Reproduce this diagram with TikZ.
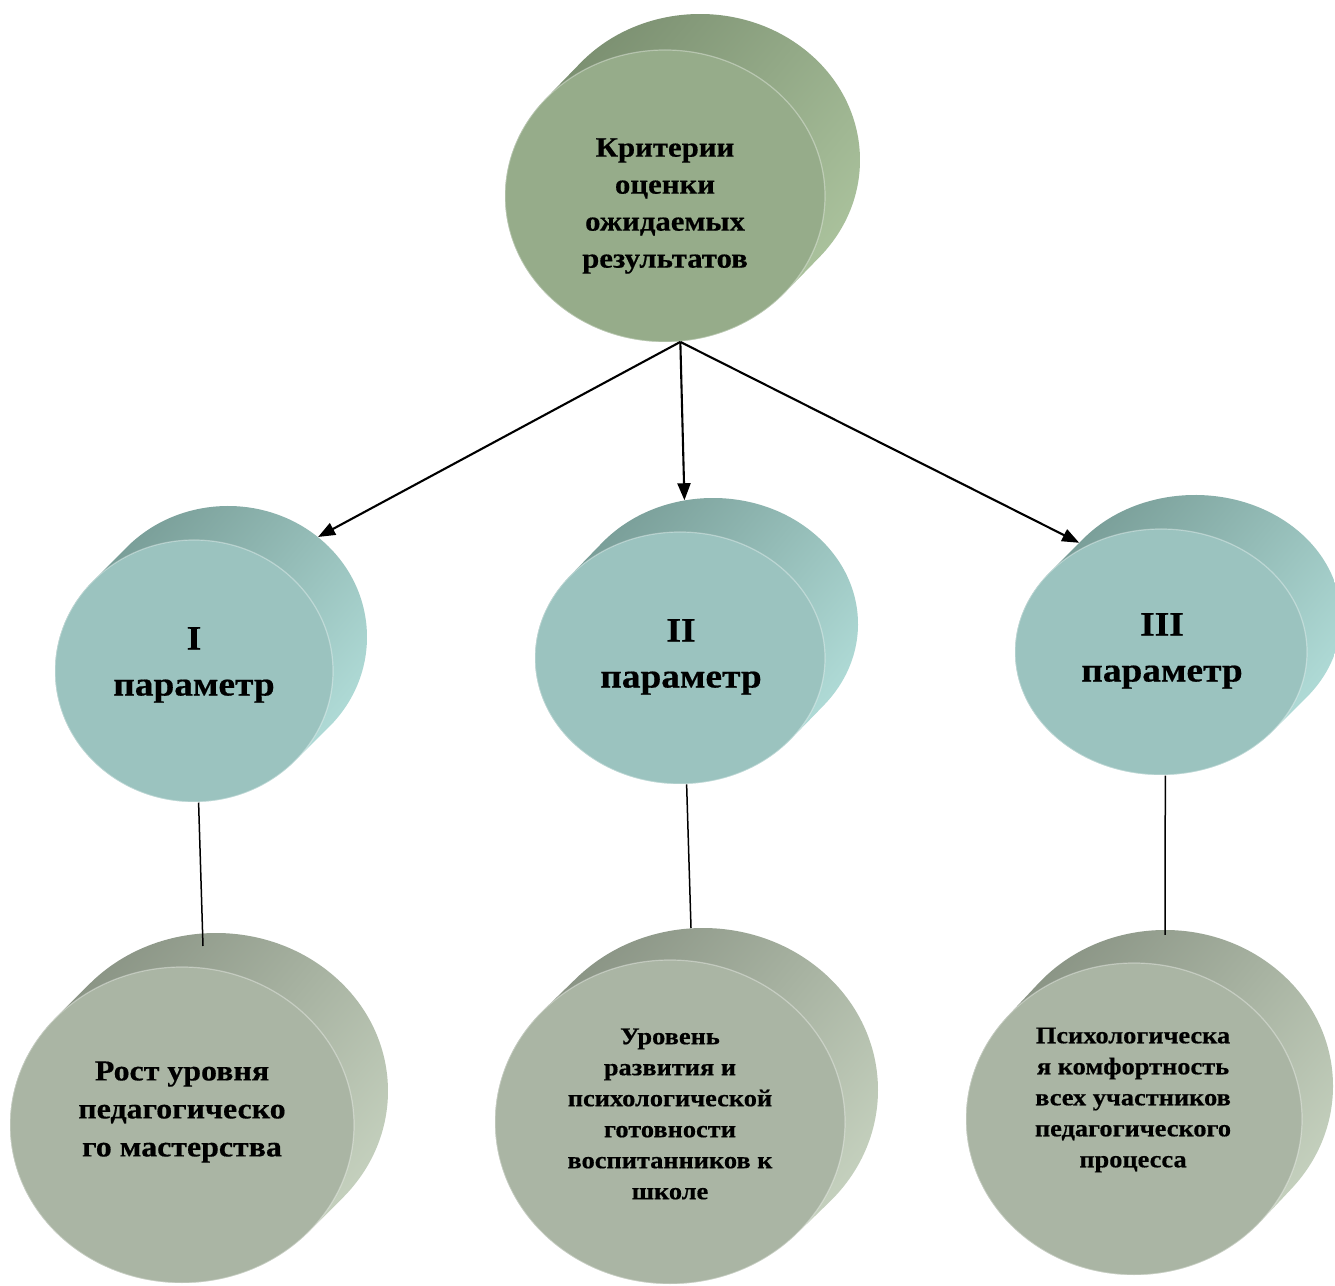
\documentclass[tikz,border=0pt]{standalone}
\usepackage{fontspec}
\setmainfont{Liberation Serif}[FakeStretch=1.1, BoldFeatures={FakeBold=0.5}]
\usetikzlibrary{shapes.geometric,arrows.meta,calc}

\definecolor{tF}{HTML}{96AC8A}
\definecolor{tD}{HTML}{778B6D}
\definecolor{tL}{HTML}{AEC6A0}
\definecolor{pF}{HTML}{9BC3BF}
\definecolor{pD}{HTML}{749892}
\definecolor{pL}{HTML}{B4E0DC}
\definecolor{bF}{HTML}{AAB5A4}
\definecolor{bD}{HTML}{858F80}
\definecolor{bL}{HTML}{C9D5C2}

\tikzset{
  frontell/.style={ellipse, inner sep=0pt, draw=white, draw opacity=0.35, line width=1.2pt},
  backell/.style={ellipse, inner sep=0pt},
  txt/.style={font=\bfseries, align=center, inner sep=0pt, text=black},
  arr/.style={-{Triangle[length=17pt,width=13pt]}, line width=2.1pt, black},
  link/.style={line width=1.5pt, black}
}

% #1 name, #2 cx, #3 cy, #4 rx, #5 ry, #6 dx, #7 dy, #8 colour prefix
\newcommand{\mycyl}[8]{%
  \pgfmathsetmacro{\cylA}{atan2(-(#5)*(#6),(#4)*(#7))}%
  \pgfmathsetmacro{\cylB}{\cylA+180}%
  \pgfmathsetmacro{\cylC}{\cylA+360}%
  \shade[top color=#8D, bottom color=#8L, shading angle=50]
    ({#2+#6+#4*cos(\cylA)},{#3+#7+#5*sin(\cylA)})
    arc[start angle=\cylA, end angle=\cylB, x radius=#4, y radius=#5]
    -- ({#2+#4*cos(\cylB)},{#3+#5*sin(\cylB)})
    arc[start angle=\cylB, end angle=\cylC, x radius=#4, y radius=#5]
    -- cycle;
  \node[backell, minimum width=2*#4, minimum height=2*#5] (#1b) at ({#2+#6},{#3+#7}) {};
  \node[frontell, fill=#8F, minimum width=2*#4, minimum height=2*#5] (#1) at (#2,#3) {};
}

\begin{document}
\begin{tikzpicture}[x=1pt,y=1pt]
\useasboundingbox (0,0) rectangle (1335,1285);
\fill[white] (0,0) rectangle (1335,1285);

\mycyl{T}{665}{1089}{160}{146}{35}{36}{t}
\mycyl{P1}{194}{614}{139}{131}{34}{34}{p}
\mycyl{P2}{680}{627}{145}{126}{33}{34}{p}
\mycyl{P3}{1161}{633}{146}{123}{34}{34}{p}
\mycyl{B1}{182}{160}{172}{158}{34}{34}{b}
\mycyl{B2}{670}{163}{175}{162}{33}{32}{b}
\mycyl{B3}{1134}{166}{168}{156}{31}{33}{b}

\node[txt, font=\fontsize{28}{37}\selectfont\bfseries] (Tt) at (665,1079) {Критерии\\оценки\\ожидаемых\\результатов};
\node[txt, font=\fontsize{34}{46}\selectfont\bfseries] (P1t) at (194,620) {I\\параметр};
\node[txt, font=\fontsize{34}{46}\selectfont\bfseries] (P2t) at (681,628) {II\\параметр};
\node[txt, font=\fontsize{34}{46}\selectfont\bfseries] (P3t) at (1162,634) {III\\параметр};
\node[txt, font=\fontsize{29}{38}\selectfont\bfseries] (B1t) at (182,173) {Рост уровня\\педагогическо\\го мастерства};
\node[txt, font=\fontsize{24}{31}\selectfont\bfseries] (B2t) at (670,171) {Уровень\\развития и\\психологической\\готовности\\воспитанников к\\школе};
\node[txt, font=\fontsize{24}{31}\selectfont\bfseries] (B3t) at (1133,185) {Психологическа\\я комфортность\\всех участников\\педагогического\\процесса};

\draw[arr] (T.-84) -- (P1b.48);
\draw[arr] (T.-84) -- (P2b.103);
\draw[arr] (T.-84) -- (P3b.147.6);

\coordinate (e1) at (203,339);
\coordinate (e2) at (691,357);
\coordinate (e3) at (1165,350);
\draw[link] (P1.-88) -- (e1);
\draw[link] (P2.-87) -- (e2);
\draw[link] (P3.-88) -- (e3);
\end{tikzpicture}
\end{document}
